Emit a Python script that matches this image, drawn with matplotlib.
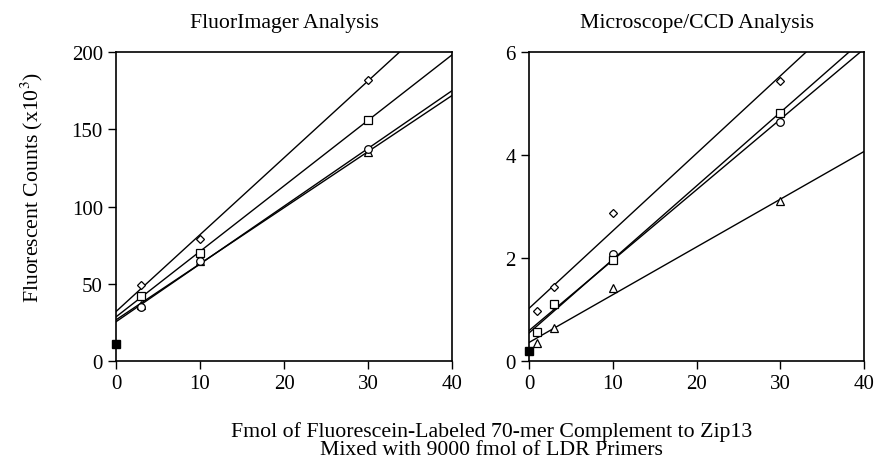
import numpy as np
import matplotlib
matplotlib.use("Agg")
import matplotlib.pyplot as plt

plt.rcParams["font.family"] = ["Liberation Serif", "DejaVu Serif"]
plt.rcParams["mathtext.fontset"] = "stix"

# ── data ─────────────────────────────────────────────────────
fmol = [1, 3, 10, 30]

# FluorImager (counts x10^3), points at 3, 10, 30 fmol
fi_x        = [3, 10, 30]
fi_diamond  = [49, 79, 182]
fi_square   = [42, 70, 156]
fi_circle   = [35, 65, 137]
fi_triangle = [36, 65, 135]
fi_blank    = 11

# Microscope/CCD (counts x10^3), points at 1, 3, 10, 30 fmol
ccd_x        = fmol
ccd_diamond  = [0.97, 1.43, 2.88, 5.43]
ccd_square   = [0.57, 1.10, 1.97, 4.82]
ccd_circle   = [0.57, 1.08, 2.08, 4.65]
ccd_triangle = [0.35, 0.65, 1.42, 3.10]
ccd_blank    = 0.2

markers = {"diamond": "D", "square": "s", "circle": "o", "triangle": "^"}
msize   = {"diamond": 4.2, "square": 5.5, "circle": 5.5, "triangle": 5.5}


def draw_panel(ax, x, series, blank, ylim, yticks, title):
    xfit = np.array([0, 40])
    for name, y in series.items():
        slope, icpt = np.polyfit(x, y, 1)
        ax.plot(xfit, icpt + slope * xfit, color="black", lw=1.0)
        ax.plot(x, y, linestyle="none", marker=markers[name], ms=msize[name],
                mfc="white", mec="black", mew=0.9)
    ax.plot([0], [blank], marker="s", ms=6, color="black", linestyle="none",
            clip_on=False, zorder=5)

    ax.set_xlim(0, 40)
    ax.set_ylim(*ylim)
    ax.set_xticks([0, 10, 20, 30, 40])
    ax.set_yticks(yticks)
    ax.tick_params(direction="out", length=6, width=1, labelsize=15,
                   top=False, right=False)
    for sp in ax.spines.values():
        sp.set_linewidth(1.2)
    ax.set_title(title, fontsize=15.7, pad=18)


fig = plt.figure(figsize=(8.75, 4.64), dpi=100)
ax1 = fig.add_axes([0.1326, 0.2198, 0.384, 0.666])
ax2 = fig.add_axes([0.6046, 0.2198, 0.383, 0.666])

# draw order: circles/triangles first so squares sit on top
draw_panel(ax1, fi_x,
           {"diamond": fi_diamond, "triangle": fi_triangle,
            "circle": fi_circle, "square": fi_square},
           fi_blank, (0, 200), [0, 50, 100, 150, 200], "FluorImager Analysis")
draw_panel(ax2, ccd_x,
           {"diamond": ccd_diamond, "triangle": ccd_triangle,
            "circle": ccd_circle, "square": ccd_square},
           ccd_blank, (0, 6), [0, 2, 4, 6], "Microscope/CCD Analysis")

fig.text(0.036, 0.597, "Fluorescent Counts (x10$^3$)", fontsize=15.7,
         rotation=90, ha="center", va="center")

fig.text(0.562, 0.008, "Fmol of Fluorescein-Labeled 70-mer Complement to Zip13\n"
         "Mixed with 9000 fmol of LDR Primers",
         ha="center", va="bottom", fontsize=15.7, linespacing=0.92)

fig.savefig("out.png", dpi=100)
